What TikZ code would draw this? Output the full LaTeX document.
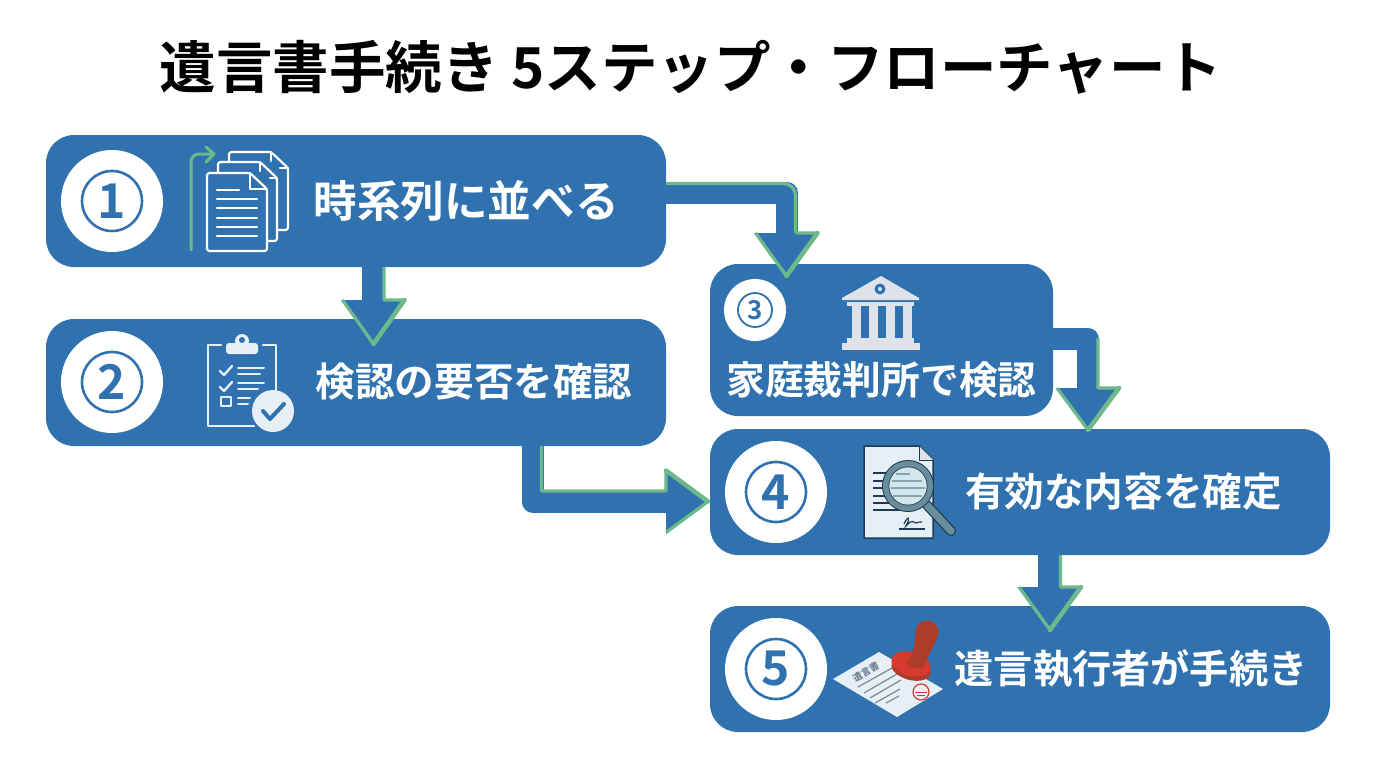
\documentclass[tikz,border=0pt]{standalone}
\usepackage{fontspec}
\setmainfont{Noto Sans CJK JP}[BoldFont={Noto Sans CJK JP Bold}]
\newfontfamily\digf{Noto Sans CJK JP Bold}
\usetikzlibrary{arrows.meta,calc}
\definecolor{bx}{HTML}{2F72AF}
\definecolor{gr}{HTML}{6DB98C}
\definecolor{lt}{HTML}{E6EFF5}
\definecolor{gy}{HTML}{DDE3E8}
\definecolor{dk}{HTML}{1E3A55}
\definecolor{rim}{HTML}{6A8D9B}
\definecolor{lens}{HTML}{D2E7EB}
\definecolor{rd}{HTML}{D63A2C}
\definecolor{rdd}{HTML}{AF3B29}
\tikzset{
 box/.style={fill=bx,rounded corners=28pt,inner sep=0pt,minimum width=#1},
 disc/.style={circle,fill=white,inner sep=0pt,minimum size=#1},
 ring/.style={circle,draw=bx,line width=2.6pt,inner sep=0pt,minimum size=#1,text=bx,font=\digf\fontsize{48}{48}\selectfont},
 lbl/.style={text=white,inner sep=0pt,font=\digf\fontsize{#1}{#1}\selectfont},
 conn/.style={draw=bx,line width=22pt,line join=round,-{Triangle[length=#1,width=62pt,color=bx]}},
 edge/.style={draw=gr,line width=3.2pt,line join=round},
 tipline/.style={draw=gr,line width=4.5pt,line cap=round},
 ico/.style={draw=white,fill=bx,line width=2.2pt,line join=round,line cap=round},
 clip/.style={draw=lt,line width=2.4pt,line cap=round,line join=round},
}
\begin{document}
\begin{tikzpicture}[x=1pt,y=-1pt]
\useasboundingbox (0,0) rectangle (1376,768);
\fill[white] (0,0) rectangle (1376,768);
\node (title) at (691,67) [inner sep=0pt,font=\bfseries\fontsize{56.5}{56.5}\selectfont] {遺言書手続き 5ステップ・フローチャート};
% boxes
\node[box=620pt,minimum height=132pt] (b1) at (356,201) {};
\node[box=620pt,minimum height=127pt] (b2) at (356,382.5) {};
\node[box=343pt,minimum height=152pt] (b3) at (881.5,340) {};
\node[box=620pt,minimum height=126pt] (b4) at (1020,492) {};
\node[box=620pt,minimum height=126pt] (b5) at (1020,669) {};
% connectors
\coordinate (t12) at (373.5,344);
\coordinate (t13) at (786.5,276);
\coordinate (t34) at (1088,430);
\coordinate (t24) at (708,501.5);
\coordinate (t45) at (1050,630);
\coordinate (s24) at (532.5,446);
\draw[conn=44pt,line width=23pt] (b1.south -| t12) -- (t12);
\draw[edge] ($(b1.south -| t12)+(10.5,0)$) -- ($(t12)+(10.5,-44)$) -- ($(t12)+(31,-44)$) -- (t12) -- ($(t12)+(-31,-44)$);
\draw[tipline] ($(t12)+(31,-44)$) -- (t12);
\draw[conn=43pt] (b1.east |- 0,192.5) -| (t13);
\draw[edge,rounded corners=12pt] (666,183.5) -- (795.5,183.5) -- (795.5,233);
\draw[edge] (795.5,233) -- ($(t13)+(31,-43)$) -- (t13) -- ($(t13)+(-31,-43)$);
\draw[tipline] ($(t13)+(31,-43)$) -- (t13);
\draw[conn=42pt] (b3.east |- 0,339) -| (t34);
\draw[edge] (1098,338) -- (1098,388) -- ($(t34)+(31,-42)$) -- (t34) -- ($(t34)+(-31,-42)$);
\draw[tipline] ($(t34)+(31,-42)$) -- (t34);
\draw[conn=42pt] (s24) |- (t24);
\draw[edge] (541.5,446) -- (541.5,491) -- (666,491) -- ($(t24)+(-42,-31)$) -- (t24) -- ($(t24)+(-42,31)$);
\draw[tipline] ($(t24)+(-42,-31)$) -- (t24);
\draw[conn=43pt,line width=24pt] (b4.south -| t45) -- (t45);
\draw[edge] (1060.5,555) -- (1060.5,587) -- ($(t45)+(31,-43)$) -- (t45) -- ($(t45)+(-31,-43)$);
\draw[tipline] ($(t45)+(31,-43)$) -- (t45);
% circles
\foreach \n/\x/\y/\d in {c1/112/201/1,c2/112/382/2,c4/776/492/4,c5/776/669/5}{
  \node[disc=102pt] (\n) at (\x,\y) {};
  \node[ring=60pt] (r\n) at (\x,\y) {\d};
}
\node[disc=62pt] (c3) at (755,310) {};
\node[ring=34pt,line width=1.8pt,font=\digf\fontsize{26}{26}\selectfont] (rc3) at (755,310) {3};
% labels
\node[lbl=43.6] (t1) at (466,201) {時系列に並べる};
\node[lbl=39.6] (t2) at (474,382) {検認の要否を確認};
\node[lbl=38.8] (t3) at (881.5,380) {家庭裁判所で検認};
\node[lbl=39.6] (t4) at (1123.5,492) {有効な内容を確定};
\node[lbl=39.2] (t5) at (1131,669) {遺言執行者が手続き};
% icon 1
\draw[draw=gr,line width=3pt,line cap=round,line join=round,rounded corners=8pt] (191,250) -- (191,154) -- (213,154);
\draw[draw=gr,line width=3pt,line cap=round,line join=round] (206,147) -- (214,154) -- (206,162);
\begin{scope}[rounded corners=2.5pt]
\draw[ico] (229,230) -- (229,152) -- (271,152) -- (288,168) -- (288,230) -- cycle;
\draw[ico] (218,241) -- (218,162) -- (260,162) -- (277,178) -- (277,241) -- cycle;
\draw[ico] (207,251) -- (207,173) -- (250,173) -- (267,189) -- (267,251) -- cycle;
\end{scope}
\draw[ico,fill=none] (250,173) -- (250,189) -- (267,189);
\draw[ico,fill=none] (260,162) -- (260,171) (270,178) -- (277,178);
\draw[ico,fill=none] (271,152) -- (271,161) (280,168) -- (288,168);
\draw[ico] (217,190) -- (239,190);
\foreach \y in {199,208,218,227,236}{\draw[ico] (217,\y) -- (257,\y);}
% icon 2
\draw[clip] (221,345) -- (208,345) -- (208,426) -- (254,426) (263,345) -- (276,345) -- (276,392);
\fill[lt,rounded corners=3pt] (226,343) rectangle (258,354);
\fill[lt] (242,341) circle[radius=7pt];
\fill[bx] (242,340) circle[radius=3pt];
\draw[clip] (220,371) -- (224,375) -- (232,366) (220,387) -- (224,391) -- (232,382);
\draw[clip,line width=2pt] (221,397) rectangle (231,406);
\draw[clip,line width=2pt] (238,368) -- (264,368) (238,374) -- (260,374) (238,383) -- (264,383) (238,389) -- (258,389) (238,398) -- (250,398) (238,404) -- (248,404);
\fill[lt] (273,411) circle[radius=21pt];
\draw[draw=bx,line width=4pt,line cap=round,line join=round] (263,411) -- (270,419) -- (284,404);
% icon 3
\fill[gy] (881,276) -- (919,298) -- (919,300) -- (842,300) -- (842,298) -- cycle;
\fill[bx] (880,289) circle[radius=5.5pt];
\fill[gy] (880,289) circle[radius=2pt];
\fill[gy] (847,302) rectangle (914,306);
\foreach \x in {856,873,890,907}{\fill[gy] (\x-4.5,306) rectangle (\x+4.5,338);}
\fill[gy] (847,338) rectangle (914,343);
\fill[gy] (842,343) rectangle (920,350);
% icon 4
\draw[draw=dk,fill=lt,line width=1.5pt,line join=round] (864,446) -- (919,446) -- (933,460) -- (933,538) -- (864,538) -- cycle;
\draw[draw=dk,fill=gy,line width=1pt] (919,446) -- (919,460) -- (933,460);
\foreach \y in {473,481,488,496,503,510}{\draw[dk,line width=1.2pt] (873,\y) -- (900,\y);}
\draw[draw=dk,line width=10pt,line cap=round] (927,505) -- (951,531);
\draw[draw=rim,line width=7.5pt,line cap=round] (927,505) -- (951,531);
\fill[fill=dk] (908,486) circle[radius=26pt];
\fill[fill=rim] (908,486) circle[radius=25pt];
\fill[fill=dk] (908,486) circle[radius=19.5pt];
\fill[fill=lens] (908,486) circle[radius=18.7pt];
\draw[rim!80,line width=1.2pt] (896,474) -- (910,474) (892,481) -- (922,481) (891,488) -- (925,488) (893,496) -- (922,496);
\draw[dk,line width=1.2pt] (904,524) .. controls (908,515) and (911,517) .. (906,526) .. controls (912,519) and (914,522) .. (916,523) .. controls (918,522) and (920,522) .. (922,522);
\draw[dk,line width=1.2pt] (899,529) -- (925,529);
% icon 5
\fill[lt] (833,679) -- (879,652) -- (943,689) -- (897,717) -- cycle;
\node[rotate=30,text=dk!70,inner sep=0pt,font=\bfseries\fontsize{9.5}{9.5}\selectfont] (seal) at (866,672) {遺言書};
\foreach \a/\b/\c/\d in {858/687/892/668,864/693/897/674,870/698/901/680,875/703/900/689,886/703/899/696}{\draw[dk!60,line width=1.2pt] (\a,\b) -- (\c,\d);}
\draw[rd,line width=1.2pt] (921,692) circle[radius=8pt];
\draw[rd,line width=1pt] (915,692) -- (927,692) (917,695) -- (925,695);
\begin{scope}[shift={(911,669)},rotate=-15]
\fill[rdd] (0,0) ellipse[x radius=20pt,y radius=11pt];
\end{scope}
\begin{scope}[shift={(911,664)},rotate=-15]
\fill[rd] (0,0) ellipse[x radius=20pt,y radius=12pt];
\end{scope}
\fill[rdd] (906,662) .. controls (914,652) and (914,648) .. (916,632) -- (938,636) .. controls (932,650) and (926,658) .. (924,668) .. controls (918,670) and (910,668) .. (906,662) -- cycle;
\fill[rdd] (927,632) circle[radius=11.5pt];
\end{tikzpicture}
\end{document}
